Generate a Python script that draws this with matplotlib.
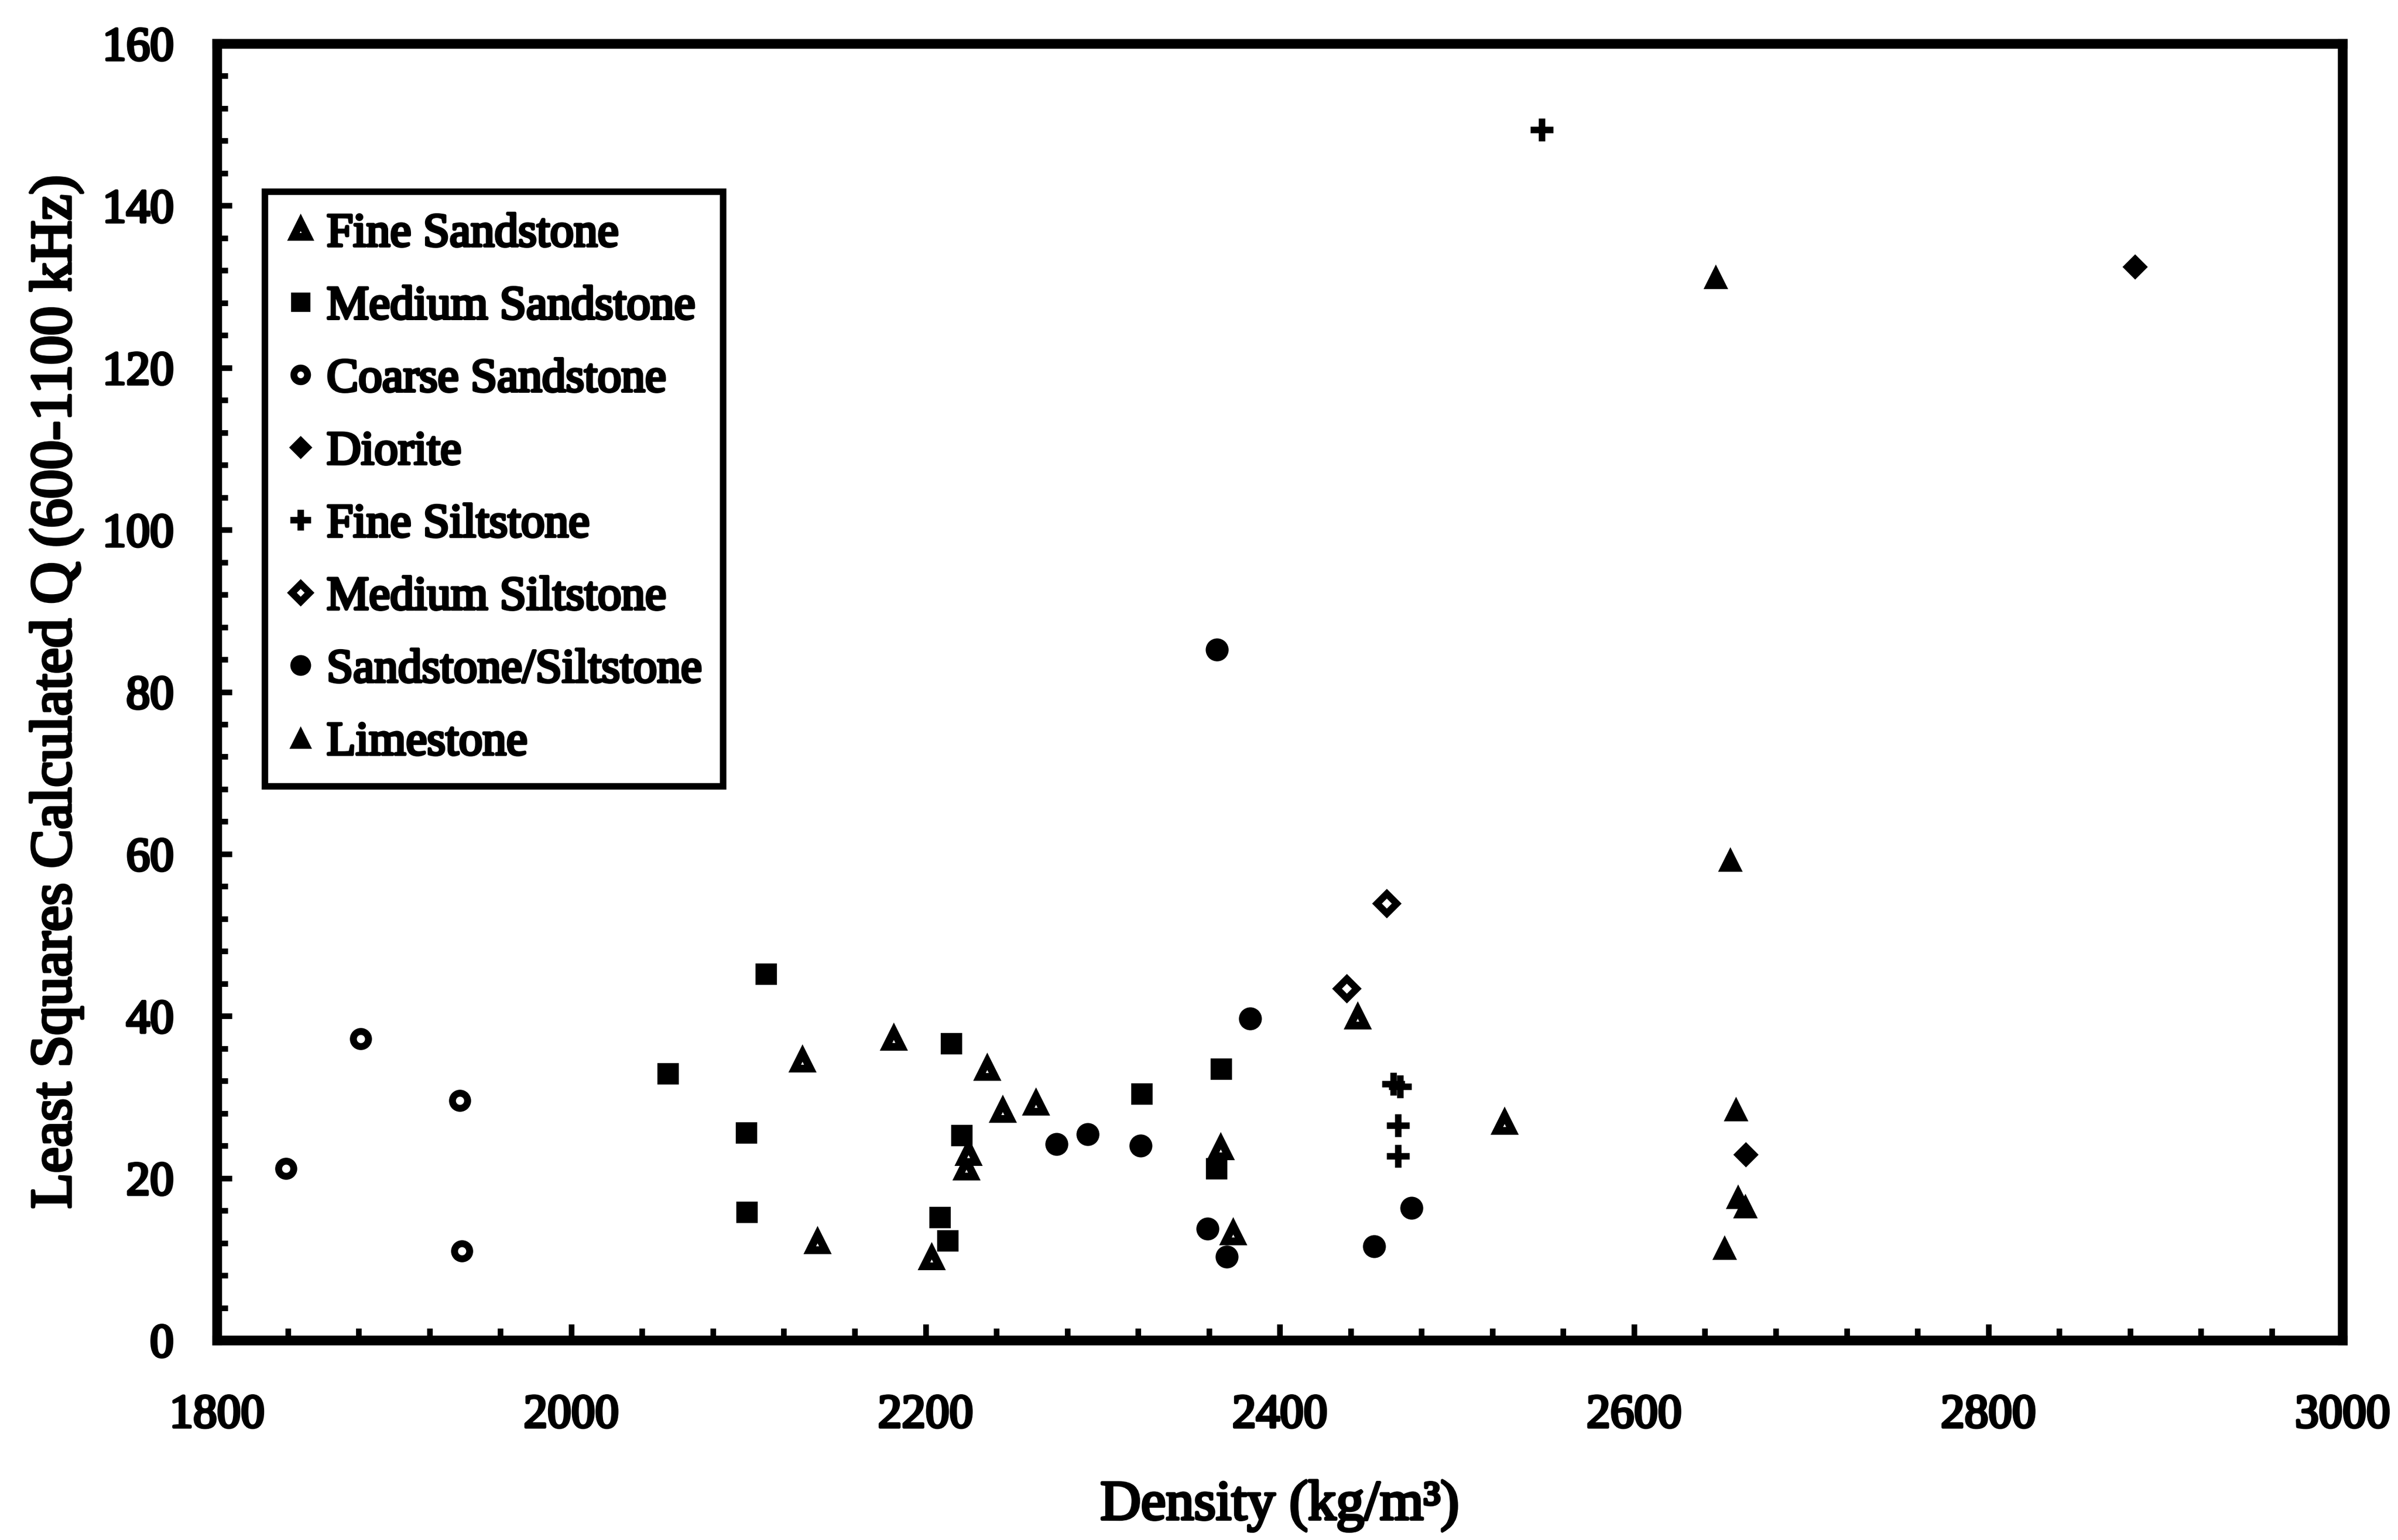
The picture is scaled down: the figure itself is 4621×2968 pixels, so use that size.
import matplotlib
matplotlib.use("Agg")
import matplotlib.pyplot as plt
import matplotlib.patheffects as pe
from matplotlib.ticker import MultipleLocator

# ---------------- data ----------------
fine_sand_x = [2130.3, 2139.0, 2181.9, 2203.4, 2223.1, 2224.2, 2234.8, 2243.6, 2262.3, 2366.6, 2373.6, 2443.9, 2526.9]
fine_sand_y = [34.5, 12.1, 37.2, 10.1, 21.2, 23.0, 33.5, 28.3, 29.2, 23.7, 13.2, 39.8, 26.8]

medium_sand_x = [2054.5, 2098.8, 2099.1, 2109.8, 2208.1, 2212.5, 2214.5, 2220.4, 2322.1, 2364.1, 2366.9]
medium_sand_y = [32.9, 25.6, 15.8, 45.2, 15.2, 12.3, 36.6, 25.3, 30.4, 21.2, 33.5]

coarse_sand_x = [1839.0, 1881.0, 1937.0, 1938.2]
coarse_sand_y = [21.2, 37.2, 29.6, 11.0]

diorite_x = [2663.1, 2882.6]
diorite_y = [22.9, 132.5]

fine_silt_x = [2464.0, 2468.0, 2466.8, 2466.8, 2547.8]
fine_silt_y = [31.6, 31.3, 26.5, 22.7, 149.4]

medium_silt_x = [2437.6, 2460.4]
medium_silt_y = [43.4, 53.9]

sand_silt_x = [2273.9, 2291.6, 2321.3, 2359.1, 2364.6, 2370.1, 2383.1, 2453.3, 2474.2]
sand_silt_y = [24.2, 25.4, 24.0, 13.8, 85.2, 10.3, 39.7, 11.6, 16.3]

limestone_x = [2646.1, 2651.0, 2654.3, 2657.5, 2658.5, 2662.6]
limestone_y = [131.2, 11.4, 59.3, 28.5, 17.7, 16.5]

series_labels = ["Fine Sandstone", "Medium Sandstone", "Coarse Sandstone", "Diorite",
                 "Fine Siltstone", "Medium Siltstone", "Sandstone/Siltstone", "Limestone"]

x_label = "Density (kg/m\u00b3)"
y_label = "Least Squares Calculated Q (600-1100 kHz)"

# ---------------- styling ----------------
FONT = ['Liberation Serif', 'DejaVu Serif']
plt.rcParams['font.family'] = FONT
thick = [pe.withStroke(linewidth=1.3, foreground='black')]

fig = plt.figure(figsize=(4621 / 300, 2968 / 300), dpi=300)
ax = fig.add_axes([0.0905, 0.1297, 0.8864, 0.8420])

common = dict(linestyle='none', color='black')
ax.plot(fine_sand_x, fine_sand_y, marker='^', markersize=7.2, markeredgewidth=3.6,
        markerfacecolor='white', markeredgecolor='black', label=series_labels[0], **common)
ax.plot(medium_sand_x, medium_sand_y, marker='s', markersize=9.3, markeredgewidth=0.8,
        markerfacecolor='black', markeredgecolor='black', label=series_labels[1], **common)
ax.plot(coarse_sand_x, coarse_sand_y, marker='o', markersize=7.0, markeredgewidth=3.2,
        markerfacecolor='white', markeredgecolor='black', label=series_labels[2], **common)
ax.plot(diorite_x, diorite_y, marker='D', markersize=7.5, markeredgewidth=0.8,
        markerfacecolor='black', markeredgecolor='black', label=series_labels[3], **common)
ax.plot(fine_silt_x, fine_silt_y, marker='+', markersize=10.5, markeredgewidth=3.0,
        markeredgecolor='black', label=series_labels[4], **common)
ax.plot(medium_silt_x, medium_silt_y, marker='D', markersize=6.4, markeredgewidth=3.2,
        markerfacecolor='white', markeredgecolor='black', label=series_labels[5], **common)
ax.plot(sand_silt_x, sand_silt_y, marker='o', markersize=10.0, markeredgewidth=0.6,
        markerfacecolor='black', markeredgecolor='black', label=series_labels[6], **common)
ax.plot(limestone_x, limestone_y, marker='^', markersize=10.2, markeredgewidth=0.8,
        markerfacecolor='black', markeredgecolor='black', label=series_labels[7], **common)

ax.set_xlim(1800, 3000)
ax.set_ylim(0, 160)
ax.xaxis.set_major_locator(MultipleLocator(200))
ax.xaxis.set_minor_locator(MultipleLocator(40))
ax.yaxis.set_major_locator(MultipleLocator(20))
ax.yaxis.set_minor_locator(MultipleLocator(4))

for sp in ax.spines.values():
    sp.set_linewidth(4.5)
    sp.set_color('black')

ax.tick_params(axis='both', which='both', direction='in', top=False, right=False, color='black')
ax.tick_params(axis='x', which='major', length=7.5, width=2.6, pad=25, labelsize=22)
ax.tick_params(axis='x', which='minor', length=5.5, width=2.6)
ax.tick_params(axis='y', which='major', length=7, width=2.6, pad=20, labelsize=22)
ax.tick_params(axis='y', which='minor', length=5, width=2.6)

for lab in ax.get_xticklabels() + ax.get_yticklabels():
    lab.set_family(FONT)
    lab.set_path_effects(thick)

ax.set_xlabel(x_label, fontsize=26, family=FONT, labelpad=20, path_effects=thick)
ax.set_ylabel(y_label, fontsize=27, family=FONT, labelpad=9, path_effects=thick)

leg = ax.legend(loc='upper left', bbox_to_anchor=(0.0225, 0.886), borderaxespad=0,
                fontsize=22, frameon=True, fancybox=False, shadow=False,
                handlelength=0.6, handletextpad=0.25, borderpad=0.45,
                labelspacing=0.62, markerscale=0.9, numpoints=1)
frame = leg.get_frame()
frame.set_edgecolor('black')
frame.set_linewidth(3.0)
frame.set_facecolor('white')
frame.set_alpha(1)
for t in leg.get_texts():
    t.set_family(FONT)
    t.set_path_effects(thick)

fig.savefig("out.png", dpi=300, facecolor='white')
